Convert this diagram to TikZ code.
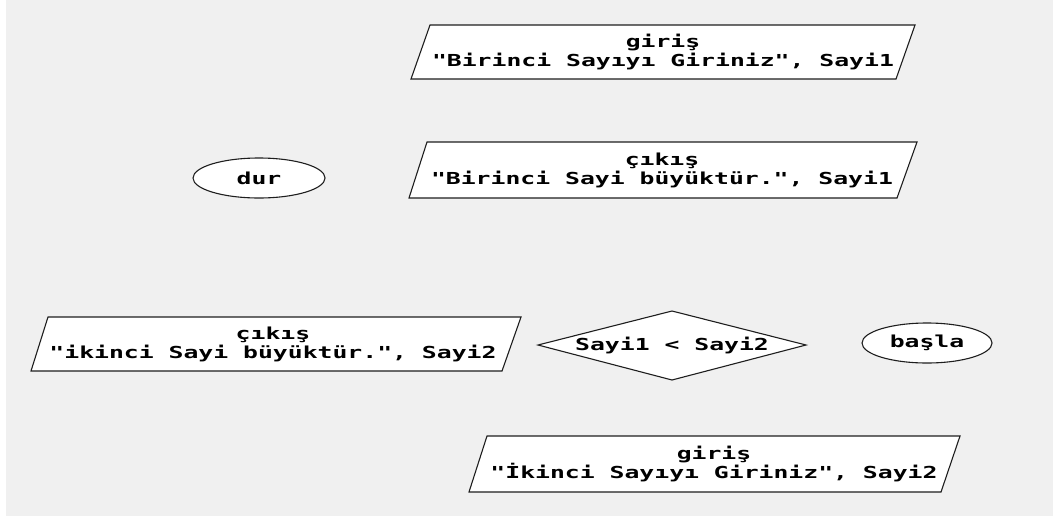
\documentclass[tikz,border=0pt]{standalone}
\usepackage{fontspec}
\usetikzlibrary{shapes.geometric}
\newfontfamily\pixmono[FakeStretch=1.5]{DejaVu Sans Mono}
\definecolor{bg}{RGB}{240,240,240}
\definecolor{ln}{RGB}{30,30,30}
\begin{document}
\begin{tikzpicture}[x=1pt,y=-1pt,
  shapeline/.style={draw=ln, line width=1.1pt, fill=white, line join=miter},
  txt/.style={font=\pixmono\bfseries\fontsize{16.5}{19}\selectfont, align=center, inner sep=0pt, text=black},
  termbox/.style={ellipse, shapeline, txt, inner sep=0pt}]
\useasboundingbox (0,0) rectangle (1059,517);
\fill[bg] (6,0) rectangle (1053,516);
% giris 1
\draw[shapeline] (430,25) -- (915,25) -- (896,79) -- (411,79) -- cycle;
\node[txt] (in1) at (663,52) {giriş\\"Birinci Sayıyı Giriniz", Sayi1};
% cikis 1
\draw[shapeline] (427,142) -- (917,142) -- (897,198) -- (409,198) -- cycle;
\node[txt] (out1) at (662,170) {çıkış\\"Birinci Sayi büyüktür.", Sayi1};
% dur
\node[termbox, minimum width=132, minimum height=40] (dur) at (259,178) {dur};
% cikis 2
\draw[shapeline] (48,317) -- (521,317) -- (502,371) -- (31,371) -- cycle;
\node[txt] (out2) at (273,344) {çıkış\\"ikinci Sayi büyüktür.", Sayi2};
% decision
\draw[shapeline] (538,345) -- (672,311) -- (806,345) -- (672,380) -- cycle;
\node[txt] (dec) at (672,345) {Sayi1 < Sayi2};
% basla
\node[termbox, minimum width=130, minimum height=40] (basla) at (927,343) {başla};
% giris 2
\draw[shapeline] (487,436) -- (960,436) -- (941,492) -- (469,492) -- cycle;
\node[txt] (in2) at (714,464) {giriş\\"İkinci Sayıyı Giriniz", Sayi2};
\end{tikzpicture}
\end{document}
